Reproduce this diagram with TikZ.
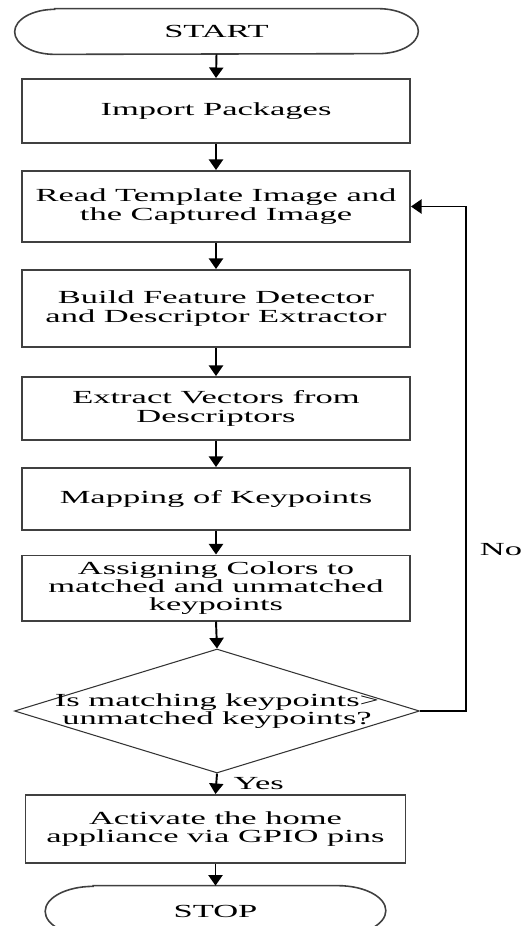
\documentclass[tikz,border=0pt]{standalone}
\usepackage{fontspec}
\setmainfont{Liberation Serif}[FakeStretch=1.87]
\usepackage{tikz}
\usetikzlibrary{arrows.meta,calc,positioning,shapes.geometric}
\tikzset{%
	every node/.style = {font=\fontsize{10.5}{10.4}\selectfont},
	startstop/.style  = {rectangle, minimum width=8.06cm, minimum height=0.9cm, text centered},
	termline/.style   = {draw=black!75, line width=0.9pt},
	process/.style    = {draw=black!75, line width=1.1pt, rectangle, minimum width=7.76cm, minimum height=1.3cm, align=center},
	decision/.style   = {draw=black!80, line width=0.6pt, diamond, aspect=3.3, inner sep=-6pt, minimum width=8.1cm, minimum height=2.48cm, align=center},
	arrow/.style      = {line width=1.1pt, -{Triangle[length=6pt,width=8pt]}},
}
\begin{document}
\begin{tikzpicture}
		\useasboundingbox (0,0) rectangle (10.54,-18.52);
		% terminals and steps
		\node[startstop] (start) at (4.33,-0.63) {START};
		\draw[termline] ($(start.north west)+(0.8,0)$) -- ($(start.north east)-(0.8,0)$) arc[start angle=90,end angle=-90,x radius=0.8,y radius=0.45] -- ($(start.south west)+(0.8,0)$) arc[start angle=270,end angle=90,x radius=0.8,y radius=0.45] -- cycle;
		\node[process, minimum height=1.28cm] (import) at (4.32,-2.22) {Import Packages};
		\node[process, minimum height=1.42cm] (read) at (4.32,-4.13) {Read Template Image and\\the Captured Image};
		\node[process, minimum height=1.54cm] (build) at (4.32,-6.17) {Build Feature Detector\\and Descriptor Extractor};
		\node[process, minimum height=1.26cm] (extract) at (4.32,-8.17) {Extract Vectors from\\Descriptors};
		\node[process, minimum height=1.24cm] (mapping) at (4.32,-9.98) {Mapping of Keypoints};
		\node[process, minimum height=1.24cm] (assign) at (4.32,-11.76) {Assigning Colors to\\matched and unmatched\\keypoints};
		\node[decision] (dec) at (4.34,-14.22) {Is matching keypoints>\\unmatched keypoints?};
		\node[process, minimum width=7.6cm, minimum height=1.36cm] (activate) at (4.31,-16.58) {Activate the home\\appliance via GPIO pins};
		\node[startstop, minimum width=6.8cm, minimum height=1cm] (stop) at (4.31,-18.22) {STOP};
		\draw[termline] ($(stop.north west)+(0.96,0)$) -- ($(stop.north east)-(0.96,0)$) arc[start angle=90,end angle=-90,x radius=0.96,y radius=0.5] -- ($(stop.south west)+(0.96,0)$) arc[start angle=270,end angle=90,x radius=0.96,y radius=0.5] -- cycle;
		% connectors
		\draw[arrow] (start.south) -- (import.north);
		\draw[arrow] (import.south) -- (read.north);
		\draw[arrow] (read.south) -- (build.north);
		\draw[arrow] (build.south) -- (extract.north);
		\draw[arrow] (extract.south) -- (mapping.north);
		\draw[arrow] (mapping.south) -- (assign.north);
		\draw[arrow] (assign.south) -- (dec.north);
		\draw[arrow] (dec.south) -- node[right=6pt] (yes) {Yes} (activate.north);
		\draw[arrow] (activate.south) -- (stop.north);
		\draw[arrow] (dec.east) -- ++(0.92,0) |- node[pos=0.16, right=4pt] (no) {No} (read.east);
	\end{tikzpicture}
\end{document}
